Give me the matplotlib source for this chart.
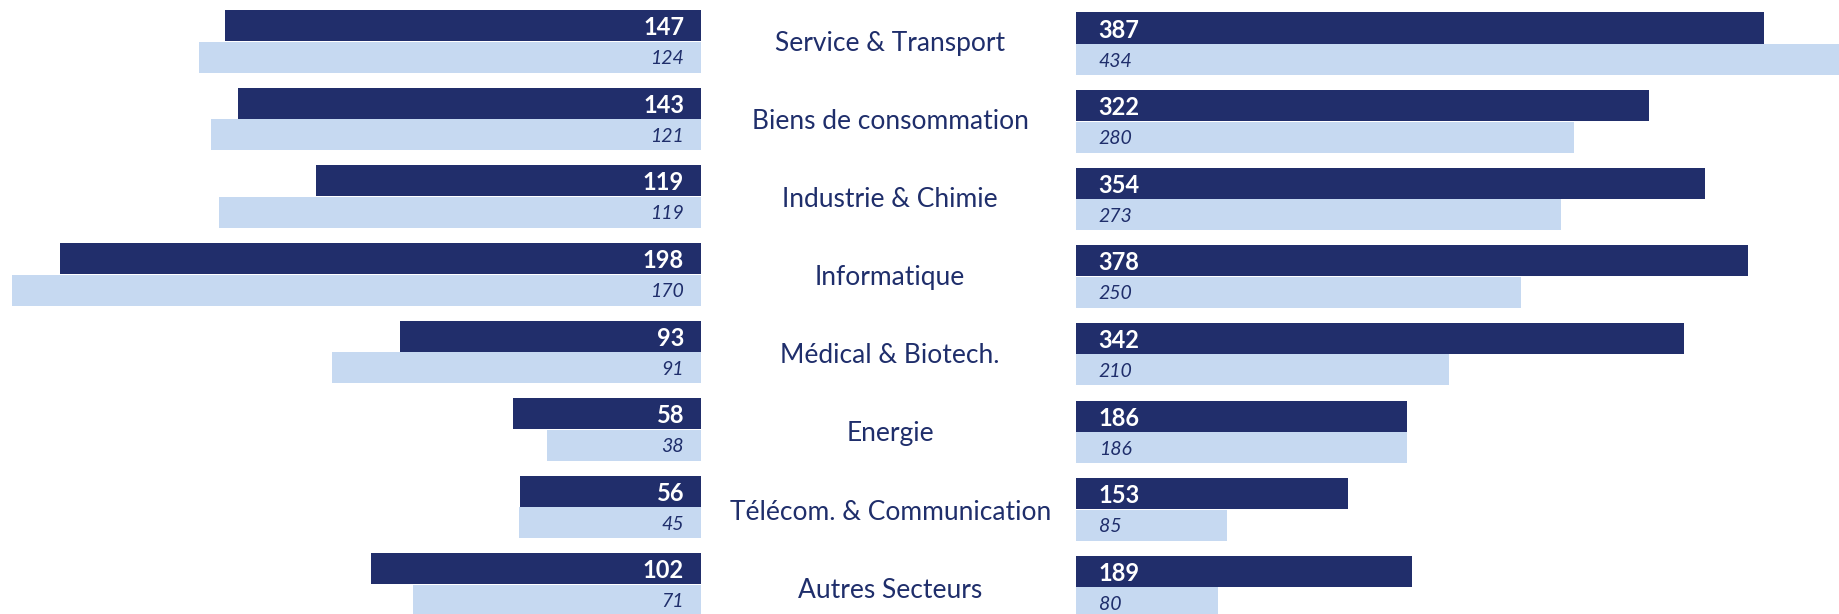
import numpy as np
import matplotlib.pyplot as plt
import matplotlib.transforms as transforms

# Dati del grafico
categorie = ['Service & Transport', 'Biens de consommation', 'Industrie & Chimie', 'Informatique',
             'Médical & Biotech.', 'Energie', 'Télécom. & Communication', 'Autres Secteurs']
sinistra_scuro = [147, 143, 119, 198, 93, 58, 56, 102]
sinistra_chiaro = [124, 121, 119, 170, 91, 38, 45, 71]
destra_scuro = [387, 322, 354, 378, 342, 186, 153, 189]
destra_chiaro = [434, 280, 273, 250, 210, 186, 85, 80]

blu_scuro = '#212E6B'
blu_chiaro = '#C6D9F1'
testo_blu = '#1F2E6B'
plt.rcParams['font.family'] = ['Lato', 'DejaVu Sans']

fig = plt.figure(figsize=(18.39, 6.14), dpi=100)
W, H = 1839, 614

y = np.arange(len(categorie))
h = 0.4

# Pannello di sinistra (barre scure e chiare su scale diverse)
axL = fig.add_axes([0, 0, 701 / W, 1])
axL2 = axL.twiny()
axL.barh(y - 0.203, sinistra_scuro, height=h, color=blu_scuro, linewidth=0)
axL2.barh(y + 0.203, sinistra_chiaro, height=h, color=blu_chiaro, linewidth=0)
axL.set_xlim(216.6, 0)
axL2.set_xlim(173.0, 0)
axL.set_ylim(7.378, -0.535)

# Pannello di destra
axR = fig.add_axes([1076.3 / W, 0, (W - 1076.3) / W, 1])
axR.barh(y - 0.203, destra_scuro, height=h, color=blu_scuro, linewidth=0)
axR.barh(y + 0.203, destra_chiaro, height=h, color=blu_chiaro, linewidth=0)
axR.set_xlim(0, 429.2)
axR.set_ylim(7.348, -0.564)

# Colonna centrale per i nomi dei settori
axC = fig.add_axes([701 / W, 0, (1076.3 - 701) / W, 1])
axC.set_xlim(0, 1)
axC.set_ylim(7.337, -0.525)

for ax in (axL, axL2, axR, axC):
    ax.axis('off')

# Etichette dei valori (sul secondo asse, che sta sopra)
trL = transforms.blended_transform_factory(axL2.transAxes, axL.transData)
trR = transforms.blended_transform_factory(axR.transAxes, axR.transData)
for i in range(len(categorie)):
    axL2.text(1 - 17 / 701, y[i] - 0.203, str(sinistra_scuro[i]), transform=trL, ha='right',
              va='center_baseline', color='white', fontsize=17, fontweight='bold')
    axL2.text(1 - 17 / 701, y[i] + 0.203, str(sinistra_chiaro[i]), transform=trL, ha='right',
              va='center_baseline', color=testo_blu, fontsize=14, fontstyle='italic')
    axR.text(22.4 / 762.7, y[i] - 0.203, str(destra_scuro[i]), transform=trR, ha='left',
             va='center_baseline', color='white', fontsize=17, fontweight='bold')
    axR.text(22.4 / 762.7, y[i] + 0.203, str(destra_chiaro[i]), transform=trR, ha='left',
             va='center_baseline', color=testo_blu, fontsize=14, fontstyle='italic')

# Etichette delle categorie al centro
for i, c in enumerate(categorie):
    axC.text(0.504, y[i], c, ha='center', va='center_baseline',
             color=testo_blu, fontsize=19, clip_on=False)

fig.savefig('out.png', dpi=100)
